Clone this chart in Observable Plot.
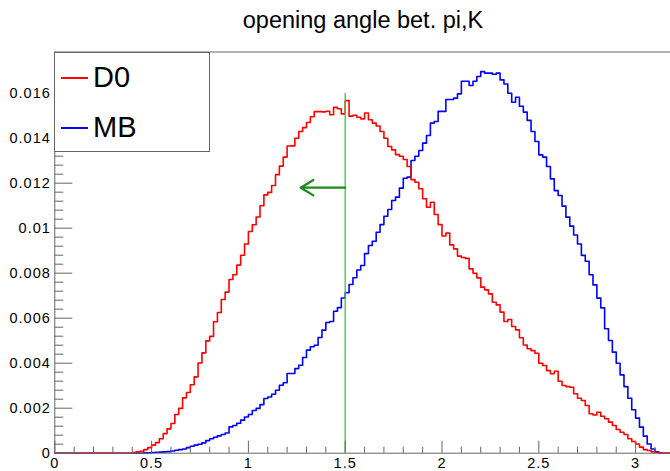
<!DOCTYPE html>
<html><head><meta charset="utf-8">
<script src="https://cdn.jsdelivr.net/npm/d3@7"></script>
<script src="https://cdn.jsdelivr.net/npm/@observablehq/plot@0.6"></script>
<style>
body{margin:0;background:#fff;}
#wrap{position:relative;width:670px;height:471px;overflow:hidden;font-family:"Liberation Sans",Arial,sans-serif;background:#fff;}
#title{position:absolute;left:363px;top:9px;transform:translateX(-50%);font-size:23.5px;line-height:23.5px;white-space:nowrap;color:#000;}
#chart{position:absolute;left:0;top:40px;}
#chart svg text{letter-spacing:1px;}
#legend{position:absolute;left:54px;top:52px;width:156px;height:100px;border:1px solid #666;background:#fff;box-sizing:border-box;}
.lg-line{position:absolute;left:6px;width:27px;height:2px;}
.lg-text{position:absolute;left:38px;font-size:29px;line-height:29px;white-space:nowrap;color:#000;}
</style>
</head><body>
<div id="wrap">
  <div id="title"></div>
  <div id="chart"></div>
  <div id="legend"></div>
</div>
<script>
const titleText = "opening angle bet. pi,K";
const seriesNames = ["D0", "MB"];
const seriesColors = ["#ff0000", "#0000ff"];
const xMin = 0, xMax = 3.2, binWidth = 0.02;
const yMax = 0.01783;

const d0Values = [
0,0,0,0,0,0,0,0,0,0, 0,0,0,0,0,0,0,0,0,0,
0.00003,0.00006,0.00009,0.00016,0.00025,0.00036,0.00047,0.00064,0.00087,0.00108,
0.00132,0.00172,0.00199,0.00246,0.0027,0.00304,0.00339,0.00401,0.00446,0.00499,
0.00519,0.00584,0.00625,0.00683,0.00716,0.00772,0.00793,0.00836,0.0088,0.0093,
0.00985,0.01015,0.0105,0.011,0.01148,0.01159,0.0119,0.01238,0.01276,0.01316,
0.01365,0.01366,0.014,0.0143,0.01447,0.0147,0.01495,0.01518,0.01518,0.01517,
0.0152,0.01504,0.01537,0.01531,0.01508,0.01567,0.01498,0.01502,0.01493,0.01486,
0.01512,0.01482,0.01467,0.01454,0.0143,0.014,0.01363,0.01348,0.01327,0.0132,
0.01305,0.01274,0.01216,0.01204,0.01175,0.01131,0.01093,0.01115,0.01061,0.01016,
0.00965,0.00978,0.00926,0.00908,0.00876,0.0087,0.00866,0.00819,0.008,0.00779,
0.00738,0.00726,0.00708,0.00671,0.00659,0.00627,0.00585,0.00594,0.00563,0.00548,
0.00513,0.00481,0.00464,0.00456,0.00444,0.004,0.0039,0.00367,0.00353,0.00364,
0.0032,0.00301,0.00296,0.00293,0.00264,0.00244,0.00234,0.00212,0.00175,0.0017,
0.00182,0.00164,0.00153,0.00138,0.00123,0.00105,0.00093,0.00083,0.00064,0.00052,
0.00041,0.00027,0.00016,0.00012,0.00006,0.00003,0.00001,0,0,0
];

const mbValues = [
0,0,0,0,0,0,0,0,0,0, 0,0,0,0,0,0,0,0,0,0, 0,0,0,
0.000015,0.00002,0.00003,0.00004,0.00005,0.00006,0.00007,
0.0001,0.00013,0.00016,0.00019,0.00025,0.00031,0.00036,0.0004,0.00046,0.00056,
0.00064,0.00071,0.00077,0.00083,0.0009,0.00117,0.00123,0.00133,0.00147,0.00161,
0.00172,0.0019,0.00199,0.00216,0.00243,0.0025,0.00262,0.0028,0.00302,0.00313,
0.00354,0.00354,0.00376,0.00391,0.00425,0.00458,0.00473,0.0048,0.00514,0.00547,
0.00581,0.00585,0.00631,0.00647,0.0069,0.00713,0.0075,0.0078,0.00814,0.00834,
0.00887,0.00923,0.00942,0.00982,0.01016,0.01053,0.01083,0.01123,0.01138,0.01178,
0.01222,0.01227,0.01301,0.0132,0.01345,0.01378,0.01412,0.01467,0.01474,0.01519,
0.01519,0.01572,0.01572,0.01578,0.01597,0.01653,0.01653,0.01634,0.01653,0.01674,
0.01696,0.01689,0.01689,0.01684,0.01689,0.01659,0.01641,0.016,0.0156,0.01582,
0.01542,0.01516,0.01479,0.0143,0.01385,0.01326,0.01316,0.01274,0.01219,0.01167,
0.01145,0.01098,0.01049,0.01009,0.0097,0.0093,0.00879,0.00853,0.00793,0.00748,
0.00689,0.00646,0.00553,0.00501,0.00449,0.004,0.00348,0.00296,0.00244,0.00193,
0.00156,0.00116,0.00076,0.00041,0.00019,0.00006,0.00001,0,0,0
];

const xMajorTicks = [0, 0.5, 1, 1.5, 2, 2.5, 3];
const xTickLabels = ["0", "0.5", "1", "1.5", "2", "2.5", "3"];
const yMajorTicks = [0, 0.002, 0.004, 0.006, 0.008, 0.01, 0.012, 0.014, 0.016];
const yTickLabels = ["0", "0.002", "0.004", "0.006", "0.008", "0.01", "0.012", "0.014", "0.016"];
const xMinorStep = 0.1, yMinorStep = 0.0004;

const cutX = 1.5, cutTop = 0.016;
const arrowStart = [1.5, 0.0118];
const arrowEnd = [1.27, 0.0118];

function stepPoints(values) {
  const pts = values.map((v, i) => ({x: xMin + i * binWidth, y: v}));
  pts.push({x: xMin + values.length * binWidth, y: values[values.length - 1]});
  return pts;
}
const xMinorTicks = d3.range(0, xMax + 1e-9, xMinorStep).map(d => +d.toFixed(2)).filter(d => !xMajorTicks.includes(d));
const yMinorTicks = d3.range(0, yMax, yMinorStep).map(d => +d.toFixed(4)).filter(d => !yMajorTicks.some(t => Math.abs(t - d) < 1e-9));

const W = 670, H = 431, mL = 54.3, mT = 11.5, mB = 18.3;
const axisColor = "#666";
const labelFont = "'Liberation Sans', Arial, sans-serif";
const labelSize = 14.5;

const chart = Plot.plot({
  width: W, height: H,
  marginLeft: mL, marginRight: 0, marginTop: mT, marginBottom: mB,
  style: {fontFamily: labelFont, fontSize: labelSize + "px", background: "white", color: "#000"},
  x: {domain: [xMin, xMax], range: [mL, mL + (xMax - xMin) * 193.6]},
  y: {domain: [0, yMax]},
  marks: [
    Plot.line(stepPoints(mbValues), {x: "x", y: "y", curve: "step-after", stroke: seriesColors[1], strokeWidth: 1.6}),
    Plot.line(stepPoints(d0Values), {x: "x", y: "y", curve: "step-after", stroke: seriesColors[0], strokeWidth: 1.6}),
    Plot.ruleX([cutX], {y1: 0, y2: cutTop, stroke: "#33cc33", strokeWidth: 1.3}),
    Plot.arrow([{x1: arrowStart[0], y1: arrowStart[1], x2: arrowEnd[0], y2: arrowEnd[1]}],
      {x1: "x1", y1: "y1", x2: "x2", y2: "y2", stroke: "#1a8a1a", strokeWidth: 2.2, headLength: 12, headAngle: 62}),
    Plot.ruleY([0, yMax], {stroke: axisColor}),
    Plot.ruleX([0], {stroke: axisColor}),
    Plot.axisX({ticks: xMinorTicks, tickSize: -6, tickFormat: () => "", label: null, stroke: axisColor}),
    Plot.axisX({ticks: xMajorTicks, tickSize: -12, tickFormat: () => "", label: null, stroke: axisColor}),
    Plot.axisX({ticks: xMajorTicks, tickSize: 0, tickPadding: 4.5, tickFormat: d => xTickLabels[xMajorTicks.indexOf(d)],
      label: null, fill: "#000", fontSize: labelSize, fontFamily: labelFont}),
    Plot.axisY({ticks: yMinorTicks, tickSize: -9, tickFormat: () => "", label: null, stroke: axisColor}),
    Plot.axisY({ticks: yMajorTicks, tickSize: 0, tickPadding: 4, tickFormat: d => yTickLabels[yMajorTicks.indexOf(d)],
      label: null, fill: "#000", fontSize: labelSize, fontFamily: labelFont}),
    Plot.axisY({ticks: yMajorTicks, tickSize: -18, tickFormat: () => "", label: null, stroke: axisColor})
  ]
});
document.getElementById("chart").appendChild(chart);
document.getElementById("title").textContent = titleText;

const legend = document.getElementById("legend");
const rowTops = [23.8, 74.4];
const textTops = [9.7, 59.7];
seriesNames.forEach((name, i) => {
  const ln = document.createElement("div");
  ln.className = "lg-line";
  ln.style.top = rowTops[i] + "px";
  ln.style.background = seriesColors[i];
  legend.appendChild(ln);
  const tx = document.createElement("div");
  tx.className = "lg-text";
  tx.style.top = textTops[i] + "px";
  tx.textContent = name;
  legend.appendChild(tx);
});
</script>
</body></html>
